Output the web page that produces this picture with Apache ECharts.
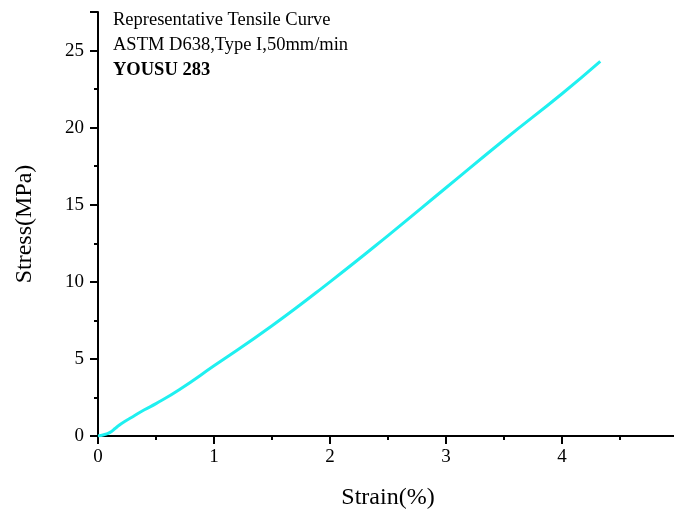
<!DOCTYPE html>
<html><head><meta charset="utf-8">
<script src="https://cdn.jsdelivr.net/npm/echarts@6/dist/echarts.min.js"></script>
<style>html,body{margin:0;padding:0;background:#fff;overflow:hidden;}#c{width:674px;height:512px;}</style>
</head><body><div id="c"></div>
<script>
const strain = [0, 0.05, 0.1, 0.15, 0.2, 0.3, 0.4, 0.5, 0.7, 1.0, 1.5, 2.0, 2.5, 3.0, 3.5, 4.0, 4.33];
const stress = [0, 0.08, 0.22, 0.5, 0.8, 1.25, 1.7, 2.1, 3.0, 4.55, 7.15, 10.0, 13.0, 16.1, 19.2, 22.2, 24.3];
const titleLines = ['Representative Tensile Curve', 'ASTM D638,Type I,50mm/min', 'YOUSU 283'];
const xName = 'Strain(%)';
const yName = 'Stress(MPa)';

const font = '"Liberation Serif","Times New Roman",serif';
const chart = echarts.init(document.getElementById('c'));
const axisCommon = {
  axisLine: {show: true, onZero: false, lineStyle: {color: '#000', width: 2}},
  axisTick: {show: true, inside: false, length: 8, lineStyle: {color: '#000', width: 2}},
  minorTick: {show: true, splitNumber: 2, length: 4, lineStyle: {color: '#000', width: 2}},
  splitLine: {show: false},
  axisLabel: {color: '#000', fontFamily: font, fontSize: 19},
  nameTextStyle: {color: '#000', fontFamily: font, fontSize: 24}
};
chart.setOption({
  animation: false,
  grid: {left: 98, top: 12, width: 580, height: 424, containLabel: false, outerBoundsMode: 'none'},
  xAxis: Object.assign({}, axisCommon, {
    type: 'value', min: 0, max: 5, interval: 1,
    name: xName, nameLocation: 'middle', nameGap: 50,
    axisLabel: Object.assign({}, axisCommon.axisLabel, {margin: 12})
  }),
  yAxis: Object.assign({}, axisCommon, {
    type: 'value', min: 0, max: 27.5, interval: 5,
    name: yName, nameLocation: 'middle', nameGap: 61,
    axisLabel: Object.assign({}, axisCommon.axisLabel, {margin: 14, showMaxLabel: false})
  }),
  graphic: titleLines.map((t, i) => ({
    type: 'text', left: 113, top: 11 + i * 25,
    style: {text: t, fill: '#000', font: (i === 2 ? 'bold ' : '') + '18.5px ' + font}
  })),
  series: [{
    type: 'line', smooth: true, showSymbol: false,
    data: strain.map((x, i) => [x, stress[i]]),
    lineStyle: {color: '#1ff0f0', width: 3}
  }]
});
</script></body></html>
